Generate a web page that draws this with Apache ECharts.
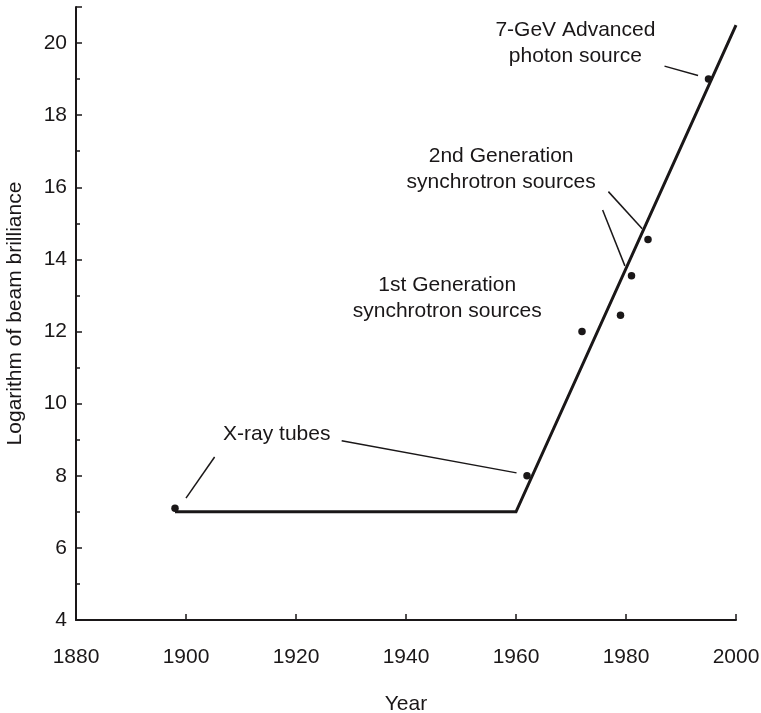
<!DOCTYPE html>
<html>
<head>
<meta charset="utf-8">
<script src="https://cdn.jsdelivr.net/npm/echarts@6/dist/echarts.min.js"></script>
<style>
  html, body { margin: 0; padding: 0; background: #fff; }
  #chart { width: 761px; height: 713px; }
</style>
</head>
<body>
<div id="chart"></div>
<script>
// Trend of beam brilliance over time
const trendYears = [1898, 1960, 2000];
const trendValues = [7, 7, 20.5];

// Individual sources
const sourceYears = [1898, 1962, 1972, 1979, 1981, 1984, 1995];
const sourceValues = [7.1, 8.0, 12.0, 12.45, 13.55, 14.55, 19.0];

// Annotation texts and their anchor (year, value)
const noteTexts = [
  'X-ray tubes',
  '7-GeV Advanced\nphoton source',
  '2nd Generation\nsynchrotron sources',
  '1st Generation\nsynchrotron sources'
];
const noteYears = [1916.5, 1970.8, 1957.3, 1947.5];
const noteValues = [9.16, 19.99, 16.49, 12.92];

// Leader lines from notes to sources: start and end (year, value)
const leaderFromYears = [1900, 1928.3, 1976.8, 1975.75, 1987.0];
const leaderFromValues = [7.38, 8.97, 15.88, 15.37, 19.36];
const leaderToYears = [1905.2, 1960.1, 1982.95, 1979.8, 1993.1];
const leaderToValues = [8.52, 8.08, 14.85, 13.82, 19.1];

// Axis ticks
const xTicks = [1880, 1900, 1920, 1940, 1960, 1980, 2000];
const yTicks = [4, 6, 8, 10, 12, 14, 16, 18, 20];

const ink = '#1a1718';
const font = '"Liberation Sans", Arial, Helvetica, sans-serif';

const chart = echarts.init(document.getElementById('chart'), null, { renderer: 'canvas' });

const leaderSeries = leaderFromYears.map((y0, i) => ({
  type: 'line',
  silent: true,
  symbol: 'none',
  z: 3,
  lineStyle: { color: ink, width: 1.5 },
  data: [[y0, leaderFromValues[i]], [leaderToYears[i], leaderToValues[i]]]
}));

chart.setOption({
  animation: false,
  backgroundColor: '#fff',
  grid: {
    left: 76, right: 25, top: 7, bottom: 93,
    containLabel: false,
    outerBoundsMode: 'none'
  },
  xAxis: {
    type: 'value',
    min: xTicks[0],
    max: xTicks[xTicks.length - 1],
    interval: 20,
    name: 'Year',
    nameLocation: 'middle',
    nameGap: 74,
    nameTextStyle: { color: ink, fontSize: 21, fontFamily: font },
    axisLine: { lineStyle: { color: ink, width: 2 } },
    axisTick: { inside: true, length: 6, lineStyle: { color: ink, width: 1.5 } },
    axisLabel: {
      color: ink, fontSize: 21, fontFamily: font, margin: 27,
      formatter: v => String(v)
    },
    splitLine: { show: false }
  },
  yAxis: [
    {
      type: 'value',
      min: yTicks[0],
      max: 21,
      interval: 2,
      name: 'Logarithm of beam brilliance',
      nameLocation: 'middle',
      nameGap: 50,
      nameTextStyle: { color: ink, fontSize: 21, fontFamily: font },
      axisLine: { lineStyle: { color: ink, width: 2 } },
      axisTick: { inside: true, length: 6, lineStyle: { color: ink, width: 1.5 } },
      axisLabel: {
        color: ink, fontSize: 21, fontFamily: font, margin: 9,
        formatter: v => (yTicks.indexOf(v) >= 0 ? String(v) : '')
      },
      splitLine: { show: false }
    },
    {
      type: 'value',
      min: yTicks[0],
      max: 21,
      interval: 1,
      position: 'left',
      axisLine: { show: false },
      axisTick: { show: true, inside: true, length: 4, lineStyle: { color: ink, width: 1.5 } },
      axisLabel: { show: false },
      splitLine: { show: false }
    }
  ],
  series: [
    {
      type: 'line',
      silent: true,
      symbol: 'none',
      z: 4,
      lineStyle: { color: ink, width: 3, join: 'miter' },
      data: trendYears.map((y, i) => [y, trendValues[i]])
    },
    {
      type: 'scatter',
      silent: true,
      symbol: 'circle',
      symbolSize: 7.5,
      z: 5,
      itemStyle: { color: ink, opacity: 1 },
      data: sourceYears.map((y, i) => [y, sourceValues[i]])
    },
    ...leaderSeries,
    {
      type: 'scatter',
      silent: true,
      symbolSize: 0,
      z: 6,
      itemStyle: { color: ink },
      label: {
        show: true,
        position: [0, 0],
        color: ink,
        opacity: 1,
        textBorderWidth: 0,
        textShadowBlur: 0,
        fontSize: 21,
        fontFamily: font,
        lineHeight: 26,
        align: 'center',
        verticalAlign: 'middle',
        formatter: p => noteTexts[p.dataIndex]
      },
      data: noteYears.map((y, i) => [y, noteValues[i]])
    }
  ]
});
</script>
</body>
</html>
